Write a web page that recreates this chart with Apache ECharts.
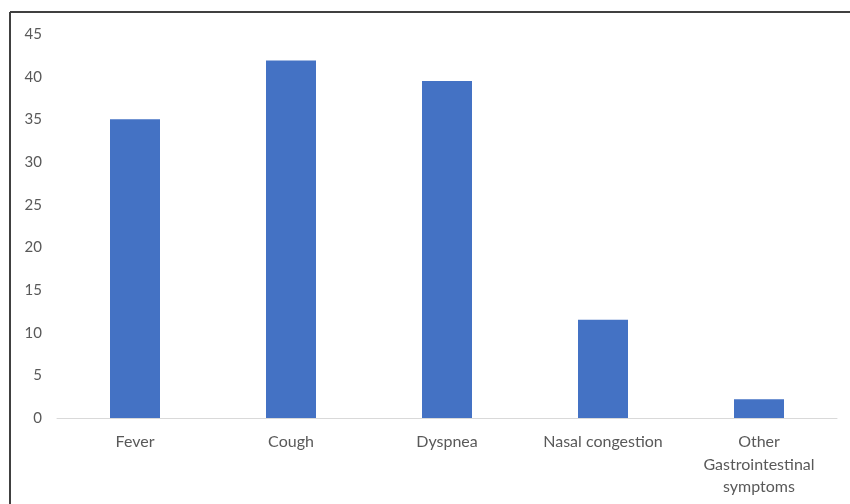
<!DOCTYPE html>
<html>
<head>
<meta charset="utf-8">
<script src="https://cdn.jsdelivr.net/npm/echarts@6/dist/echarts.min.js"></script>
<style>html,body{margin:0;padding:0;background:#fff;}#chart{width:850px;height:504px;}</style>
</head>
<body>
<div id="chart"></div>
<script>
const categories = ["Fever", "Cough", "Dyspnea", "Nasal congestion", "Other\nGastrointestinal\nsymptoms"];
const values = [35, 41.9, 39.5, 11.5, 2.2];
const yTicks = [0, 5, 10, 15, 20, 25, 30, 35, 40, 45];

const chart = echarts.init(document.getElementById('chart'));
chart.setOption({
  animation: false,
  backgroundColor: '#ffffff',
  grid: { left: 57, right: 13, top: 34, bottom: 86 },
  xAxis: {
    type: 'category',
    data: categories,
    axisLine: { show: true, lineStyle: { color: '#d9d9d9', width: 1 } },
    axisTick: { show: false },
    axisLabel: { color: '#595959', fontFamily: 'Lato', fontSize: 16, margin: 13, lineHeight: 22.5, interval: 0 }
  },
  yAxis: {
    type: 'value',
    min: yTicks[0],
    max: yTicks[yTicks.length - 1],
    interval: 5,
    splitLine: { show: false },
    axisLine: { show: false },
    axisTick: { show: false },
    axisLabel: { color: '#595959', fontFamily: 'Lato', fontSize: 15, margin: 15 }
  },
  series: [{
    type: 'bar',
    data: values,
    barWidth: 50,
    itemStyle: { color: '#4472C4' }
  }],
  graphic: [
    { type: 'line', shape: { x1: 10, y1: 12, x2: 850, y2: 12 }, style: { stroke: '#404040', lineWidth: 2 } },
    { type: 'line', shape: { x1: 10, y1: 12, x2: 10, y2: 504 }, style: { stroke: '#404040', lineWidth: 2 } }
  ]
});
</script>
</body>
</html>
